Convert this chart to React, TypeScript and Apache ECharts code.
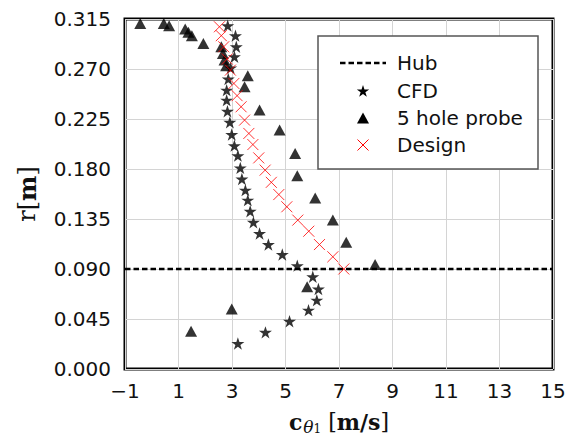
import React, { useEffect, useRef } from 'react';
import * as echarts from 'echarts';

// CFD data: tangential velocity c_theta1 [m/s] vs radius r [m]
const CFD_C = [2.84, 3.13, 3.16, 3.09, 2.95, 2.86, 2.80, 2.80, 2.83, 2.92, 2.99, 3.09, 3.22, 3.31, 3.37, 3.50, 3.59, 3.68, 3.80, 4.03, 4.36, 4.88, 5.44, 6.02, 6.23, 6.17, 5.86, 5.15, 4.25, 3.22];
const CFD_R = [0.309, 0.300, 0.290, 0.281, 0.271, 0.261, 0.251, 0.242, 0.232, 0.222, 0.211, 0.201, 0.192, 0.181, 0.171, 0.161, 0.152, 0.142, 0.132, 0.122, 0.112, 0.103, 0.093, 0.083, 0.072, 0.062, 0.053, 0.043, 0.033, 0.023];

// 5 hole probe measurements
const PROBE_C = [-0.43, 0.45, 0.65, 1.25, 1.37, 1.50, 1.93, 2.60, 2.66, 2.72, 2.78, 3.59, 3.47, 4.03, 4.78, 5.36, 5.44, 6.11, 6.77, 7.27, 8.35, 5.81, 2.99, 1.47];
const PROBE_R = [0.311, 0.311, 0.309, 0.306, 0.303, 0.300, 0.293, 0.290, 0.284, 0.278, 0.273, 0.264, 0.254, 0.233, 0.215, 0.194, 0.174, 0.154, 0.134, 0.114, 0.094, 0.074, 0.054, 0.034];

// Design values
const DESIGN_C = [2.53, 2.60, 2.69, 2.82, 2.94, 3.07, 3.19, 3.34, 3.47, 3.63, 3.78, 4.00, 4.24, 4.47, 4.75, 5.05, 5.46, 5.87, 6.27, 6.77, 7.18];
const DESIGN_R = [0.308, 0.300, 0.290, 0.279, 0.269, 0.257, 0.246, 0.236, 0.224, 0.212, 0.202, 0.190, 0.179, 0.168, 0.157, 0.146, 0.134, 0.124, 0.112, 0.101, 0.090];

// Hub radius
const HUB_R = 0.09;
const X_RANGE = [-1, 15];
const X_STEP = 2;
const Y_RANGE = [0, 0.315];
const Y_STEP = 0.045;

const LEGEND_NAMES = ['Hub', 'CFD', '5 hole probe', 'Design'];

const STAR_PATH =
  'path://M0,-100 L22.45,-30.9 L95.1,-30.9 L36.3,11.8 L58.8,80.9 L0,38.2 L-58.8,80.9 L-36.3,11.8 L-95.1,-30.9 L-22.45,-30.9 Z';
const CROSS_PATH = 'path://M0,0 L10,10 M10,0 L0,10';

function starPoints(cx: number, cy: number, r: number): number[][] {
  const pts: number[][] = [];
  for (let i = 0; i < 10; i++) {
    const a = -Math.PI / 2 + (i * Math.PI) / 5;
    const rr = i % 2 === 0 ? r : r * 0.382;
    pts.push([cx + rr * Math.cos(a), cy + rr * Math.sin(a)]);
  }
  return pts;
}

const zip = (a: number[], b: number[]) => a.map((v, i) => [v, b[i]]);

export default function App() {
  const ref = useRef<HTMLDivElement>(null);
  useEffect(() => {
    const chart = echarts.init(ref.current!, null, { renderer: 'svg' });
    const sans = 'DejaVu Sans';
    const serif = 'DejaVu Serif';
    const legX = 318, legY = 36, legW = 220, legH = 133;
    const rowY = [63, 91, 118, 145];
    const mx = 363;
    const Z = 100;
    const option: any = {
      animation: false,
      backgroundColor: '#fff',
      grid: {
        left: 125,
        top: 19,
        width: 428,
        height: 350,
        show: true,
        borderColor: '#000',
        borderWidth: 3,
        backgroundColor: 'transparent',
        containLabel: false,
        outerBoundsMode: 'none',
      },
      xAxis: {
        type: 'value',
        min: X_RANGE[0],
        max: X_RANGE[1],
        interval: X_STEP,
        axisLine: { show: false },
        axisTick: { show: false },
        splitLine: { show: true, lineStyle: { color: '#d4d4d4', width: 1 } },
        axisLabel: {
          fontFamily: sans,
          fontSize: 20,
          color: '#111',
          margin: 12,
          formatter: (v: number) => (v < 0 ? '\u2212' + Math.abs(v) : String(v)),
        },
        name: '{b|c}{s|θ}{ss|1}{r| [}{b|m/s}{r|]}',
        nameLocation: 'middle',
        nameGap: 39,
        nameTextStyle: {
          rich: {
            b: { fontFamily: serif, fontWeight: 'bold', fontSize: 22, color: '#111', lineHeight: 26, verticalAlign: 'middle' },
            r: { fontFamily: serif, fontSize: 22, color: '#111', lineHeight: 26, verticalAlign: 'middle' },
            s: { fontFamily: serif, fontStyle: 'italic', fontSize: 17, color: '#111', lineHeight: 27, verticalAlign: 'bottom', padding: [0, 0, 0, 1] },
            ss: { fontFamily: serif, fontSize: 12, color: '#111', lineHeight: 24, verticalAlign: 'bottom' },
          },
        },
      },
      yAxis: {
        type: 'value',
        min: Y_RANGE[0],
        max: Y_RANGE[1],
        interval: Y_STEP,
        axisLine: { show: false },
        axisTick: { show: false },
        splitLine: { show: true, lineStyle: { color: '#d4d4d4', width: 1 } },
        axisLabel: {
          fontFamily: sans,
          fontSize: 20,
          color: '#111',
          margin: 14,
          formatter: (v: number) => v.toFixed(3),
        },
        name: '{r|r[}{b|m}{r|]}',
        nameLocation: 'middle',
        nameGap: 86,
        nameTextStyle: {
          rich: {
            b: { fontFamily: serif, fontWeight: 'bold', fontSize: 24, color: '#111' },
            r: { fontFamily: serif, fontSize: 24, color: '#111' },
          },
        },
      },
      series: [
        {
          name: LEGEND_NAMES[0],
          type: 'line',
          data: [[X_RANGE[0], HUB_R], [X_RANGE[1], HUB_R]],
          symbol: 'none',
          lineStyle: { color: '#000', width: 2.5, type: [5.5, 3] },
          z: 3,
        },
        {
          name: LEGEND_NAMES[1],
          type: 'scatter',
          data: zip(CFD_C, CFD_R),
          symbol: STAR_PATH,
          symbolSize: [13, 12.4],
          itemStyle: { color: '#000' },
          z: 4,
        },
        {
          name: LEGEND_NAMES[2],
          type: 'scatter',
          data: zip(PROBE_C, PROBE_R),
          symbol: 'triangle',
          symbolSize: [12, 11],
          itemStyle: { color: '#000' },
          z: 4,
        },
        {
          name: LEGEND_NAMES[3],
          type: 'scatter',
          data: zip(DESIGN_C, DESIGN_R),
          symbol: CROSS_PATH,
          symbolSize: 11,
          itemStyle: { color: 'rgba(0,0,0,0)', borderColor: '#ff0000', borderWidth: 1 },
          z: 5,
        },
      ],
      graphic: [
        {
          type: 'rect',
          z: Z,
          shape: { x: legX, y: legY, width: legW, height: legH },
          style: { fill: '#fff', stroke: '#555', lineWidth: 1.5 },
        },
        {
          type: 'line',
          z: Z + 1,
          shape: { x1: 340, y1: rowY[0], x2: 386, y2: rowY[0] },
          style: { stroke: '#000', lineWidth: 2.5, lineDash: [5.5, 3] },
        },
        {
          type: 'polygon',
          z: Z + 1,
          shape: { points: starPoints(mx, rowY[1] + 0.5, 6.5) },
          style: { fill: '#000' },
        },
        {
          type: 'polygon',
          z: Z + 1,
          shape: { points: [[mx - 6, rowY[2] + 5.5], [mx + 6, rowY[2] + 5.5], [mx, rowY[2] - 5.5]] },
          style: { fill: '#000' },
        },
        {
          type: 'line',
          z: Z + 1,
          shape: { x1: mx - 5.5, y1: rowY[3] - 5.5, x2: mx + 5.5, y2: rowY[3] + 5.5 },
          style: { stroke: '#ff0000', lineWidth: 1 },
        },
        {
          type: 'line',
          z: Z + 1,
          shape: { x1: mx + 5.5, y1: rowY[3] - 5.5, x2: mx - 5.5, y2: rowY[3] + 5.5 },
          style: { stroke: '#ff0000', lineWidth: 1 },
        },
        ...LEGEND_NAMES.map((n, i) => ({
          type: 'text',
          z: Z + 1,
          x: 397,
          y: rowY[i],
          style: {
            text: n,
            fontFamily: sans,
            fontSize: 20,
            fill: '#111',
            verticalAlign: 'middle',
            align: 'left',
          },
        })),
      ],
    };
    chart.setOption(option);
    return () => chart.dispose();
  }, []);
  return (
    <div
      ref={ref}
      style={{ position: 'fixed', left: 0, top: 0, width: 574, height: 439, background: '#fff' }}
    />
  );
}
